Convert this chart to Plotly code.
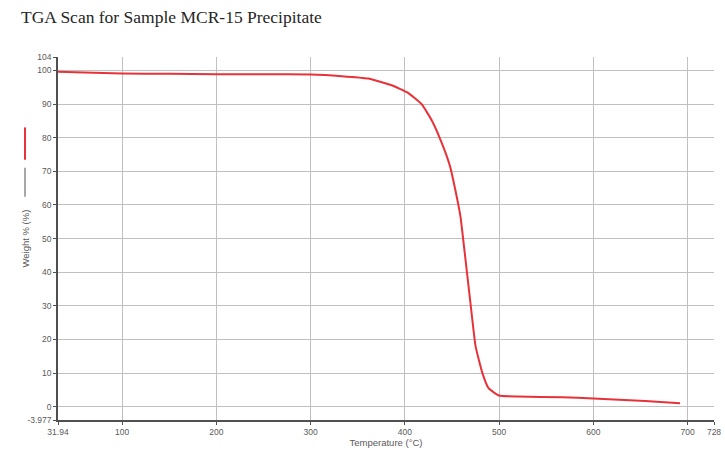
import plotly.graph_objects as go

temperature = [31.94, 60, 100, 150, 200, 250, 300, 333, 361, 386, 403, 418, 429, 439,
               448, 453.5, 459, 463, 469.5, 475, 482, 489, 500, 520, 567, 600, 655, 692]
weight = [99.6, 99.4, 99.1, 99.0, 98.9, 98.9, 98.8, 98.3, 97.6, 95.6, 93.4, 89.9, 84.9, 78.5,
          71.4, 64.5, 56.5, 47.0, 31.0, 18.0, 10.2, 5.4, 3.3, 3.0, 2.8, 2.4, 1.7, 1.0]

x_tickvals = [31.94, 100, 200, 300, 400, 500, 600, 700, 728]
x_ticktext = ["31.94", "100", "200", "300", "400", "500", "600", "700", "728"]
y_tickvals = [-3.977, 0, 10, 20, 30, 40, 50, 60, 70, 80, 90, 100, 104]
y_ticktext = ["-3.977", "0", "10", "20", "30", "40", "50", "60", "70", "80", "90", "100", "104"]

fig = go.Figure()
fig.add_trace(go.Scatter(x=temperature, y=weight, mode="lines",
                         line=dict(color="#e8323a", width=2, shape="spline", smoothing=0.4),
                         showlegend=False, hoverinfo="skip"))

tickfont = dict(family="Liberation Sans, Arial", size=8.5, color="#5a5a5a")
titlefont = dict(family="Liberation Sans, Arial", size=9.5, color="#5a5a5a")
fig.update_layout(
    width=725, height=454,
    margin=dict(l=58, r=11, t=57, b=34),
    paper_bgcolor="white", plot_bgcolor="white",
    title=dict(text="TGA Scan for Sample MCR-15 Precipitate", x=21/725, xanchor="left",
               y=1-17/454, yanchor="middle", pad=dict(l=0, r=0, t=0, b=0),
               font=dict(family="Liberation Serif, Times New Roman", size=17.5, color="#262626")),
    xaxis=dict(range=[31.94, 728], tickvals=x_tickvals, ticktext=x_ticktext,
               showgrid=True, gridcolor="#c0c0c0", gridwidth=1,
               showline=True, linecolor="#505050", linewidth=1.5,
               ticks="outside", ticklen=3, tickcolor="#505050", tickfont=tickfont,
               zeroline=False, automargin=False,
               title=dict(text="Temperature (°C)", standoff=3, font=titlefont)),
    yaxis=dict(range=[-3.977, 104], tickvals=y_tickvals, ticktext=y_ticktext,
               showgrid=True, gridcolor="#c0c0c0", gridwidth=1,
               showline=True, linecolor="#505050", linewidth=1.5,
               ticks="outside", ticklen=3, tickcolor="#505050", tickfont=tickfont,
               zeroline=False, automargin=False),
)

# y-axis title with legend-like line samples
fig.add_annotation(text="Weight % (%)", xref="paper", yref="paper",
                   x=-0.0503, y=0.50, textangle=-90, showarrow=False,
                   xanchor="center", yanchor="middle", font=titlefont)
fig.add_shape(type="line", xref="paper", yref="paper", x0=-0.0503, x1=-0.0503,
              y0=0.615, y1=0.695, line=dict(color="#505050", width=1))
fig.add_shape(type="line", xref="paper", yref="paper", x0=-0.0503, x1=-0.0503,
              y0=0.717, y1=0.806, line=dict(color="#e8323a", width=2))

fig.write_html("out.html", config={"displayModeBar": False},
               post_script="document.body.style.margin='0px';document.body.style.overflow='hidden';")
